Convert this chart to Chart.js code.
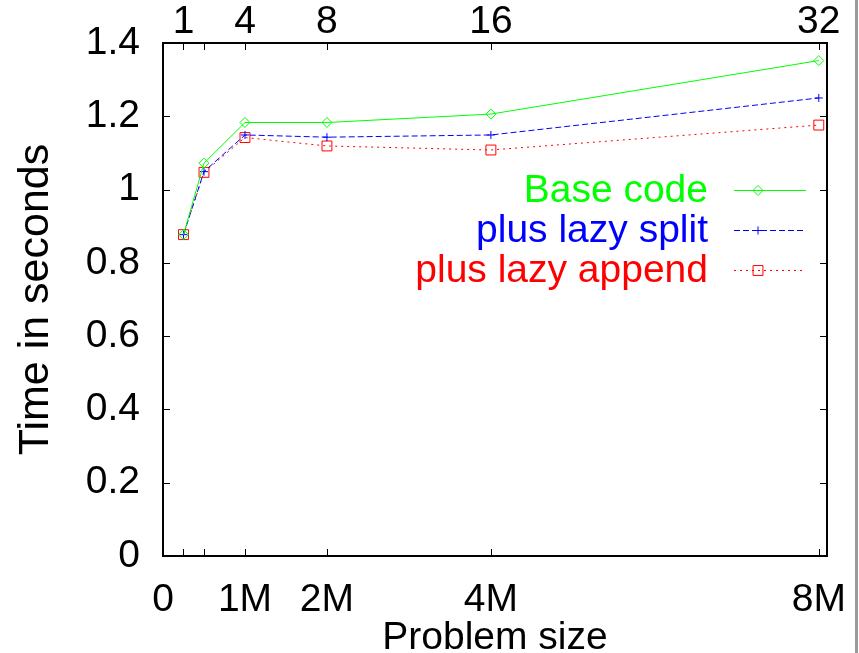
<!DOCTYPE html>
<html>
<head>
<meta charset="utf-8">
<title>Problem size vs time</title>
<script src="https://cdn.jsdelivr.net/npm/chart.js@4.4.1/dist/chart.umd.min.js"></script>
<style>
  html, body { margin: 0; padding: 0; background: #fff; }
  #wrap { width: 859px; height: 653px; position: relative; }
</style>
</head>
<body>
<div id="wrap"><canvas id="chart" width="859" height="653"></canvas></div>
<script>
// Problem sizes in millions of elements
const sizes = [0.25, 0.5, 1, 2, 4, 8];
const topLabels = ['1', '', '4', '8', '16', '32'];
const bottomTickValues = [0, 0.25, 0.5, 1, 2, 4, 8];
const bottomTickLabels = ['0', '', '', '1M', '2M', '4M', '8M'];
const yTickValues = [0, 0.2, 0.4, 0.6, 0.8, 1, 1.2, 1.4];

const baseCode   = [0.877, 1.072, 1.183, 1.183, 1.206, 1.352];
const lazySplit  = [0.877, 1.049, 1.149, 1.143, 1.149, 1.250];
const lazyAppend = [0.877, 1.047, 1.142, 1.119, 1.108, 1.176];

const FONT = '"Liberation Sans", Arial, Helvetica, sans-serif';
const FS = 39;

const toPoints = vals => sizes.map((x, i) => ({ x, y: vals[i] }));

// gnuplot style: framed box, inward ticks on all sides
const framePlugin = {
  id: 'frame',
  afterDraw(chart) {
    const { ctx, chartArea: a, scales } = chart;
    ctx.save();
    ctx.strokeStyle = '#000';
    ctx.lineWidth = 1;
    const tl = 7;
    ctx.beginPath();
    scales.y.ticks.forEach(t => {
      const y = Math.round(scales.y.getPixelForValue(t.value)) + 0.5;
      ctx.moveTo(a.left, y); ctx.lineTo(a.left + tl, y);
      ctx.moveTo(a.right, y); ctx.lineTo(a.right - tl, y);
    });
    scales.x.ticks.forEach(t => {
      const x = Math.round(scales.x.getPixelForValue(t.value)) + 0.5;
      ctx.moveTo(x, a.bottom); ctx.lineTo(x, a.bottom - tl);
    });
    scales.x2.ticks.forEach(t => {
      const x = Math.round(scales.x2.getPixelForValue(t.value)) + 0.5;
      ctx.moveTo(x, a.top); ctx.lineTo(x, a.top + tl);
    });
    ctx.stroke();
    ctx.lineWidth = 2;
    ctx.strokeRect(a.left, a.top, a.right - a.left, a.bottom - a.top);
    // grey edge at right of the picture
    ctx.fillStyle = '#9a9a9a';
    ctx.fillRect(855, 0, 3, chart.height);
    ctx.restore();
  }
};

// key inside the plot: coloured text, then a sample line with its marker
const keyPlugin = {
  id: 'key',
  afterDatasetsDraw(chart) {
    const { ctx } = chart;
    ctx.save();
    chart.data.datasets.forEach((ds, i) => {
      const y = 190 + i * 40;
      ctx.font = `${FS}px ${FONT}`;
      ctx.fillStyle = ds.borderColor;
      ctx.textAlign = 'right';
      ctx.textBaseline = 'middle';
      ctx.fillText(ds.label, 708, y + 1);
      ctx.strokeStyle = ds.borderColor;
      ctx.lineWidth = 1;
      ctx.setLineDash(ds.borderDash || []);
      ctx.beginPath();
      ctx.moveTo(734, y + 0.5); ctx.lineTo(806, y + 0.5);
      ctx.stroke();
      ctx.setLineDash([]);
      ctx.fillStyle = 'rgba(0,0,0,0)';
      Chart.helpers.drawPoint(ctx, {
        pointStyle: ds.pointStyle, radius: ds.pointRadius, borderWidth: 1, rotation: 0
      }, 758, y + 0.5);
    });
    ctx.restore();
  }
};

const tickFont = { family: FONT, size: FS, lineHeight: 1 };

// stop the scales from reserving room for overhanging labels
const noOverhang = s => { s.paddingLeft = 0; s.paddingRight = 0; s.paddingTop = 0; s.paddingBottom = 0; };

new Chart(document.getElementById('chart'), {
  type: 'line',
  data: {
    datasets: [
      {
        label: 'Base code', data: toPoints(baseCode),
        borderColor: '#00ff00', backgroundColor: 'rgba(0,0,0,0)', borderWidth: 1,
        pointStyle: 'rectRot', pointRadius: 5, pointBorderWidth: 1,
        pointBackgroundColor: 'rgba(0,0,0,0)', xAxisID: 'x', yAxisID: 'y'
      },
      {
        label: 'plus lazy split', data: toPoints(lazySplit),
        borderColor: '#0000ff', backgroundColor: 'rgba(0,0,0,0)', borderWidth: 1,
        borderDash: [6, 3],
        pointStyle: 'cross', pointRadius: 4, pointBorderWidth: 1,
        pointBackgroundColor: 'rgba(0,0,0,0)', xAxisID: 'x', yAxisID: 'y'
      },
      {
        label: 'plus lazy append', data: toPoints(lazyAppend),
        borderColor: '#ff0000', backgroundColor: 'rgba(0,0,0,0)', borderWidth: 1,
        borderDash: [2, 4],
        pointStyle: 'rect', pointRadius: 7, pointBorderWidth: 1,
        pointBackgroundColor: 'rgba(0,0,0,0)', xAxisID: 'x', yAxisID: 'y'
      }
    ]
  },
  options: {
    responsive: false,
    animation: false,
    events: [],
    clip: false,
    layout: { padding: { left: 0, right: 32, top: 0, bottom: 0 } },
    plugins: { legend: { display: false }, tooltip: { enabled: false } },
    scales: {
      x: {
        type: 'linear', position: 'bottom', min: 0, max: 8.1,
        grid: { display: false }, border: { display: false },
        afterBuildTicks: s => { s.ticks = bottomTickValues.map(v => ({ value: v })); },
        afterFit: s => { s.height = 97; noOverhang(s); },
        ticks: {
          color: '#000', font: tickFont, padding: 17, autoSkip: false, maxRotation: 0,
          callback: v => bottomTickLabels[bottomTickValues.indexOf(v)] ?? ''
        },
        title: {
          display: true, text: 'Problem size', color: '#000',
          font: { family: FONT, size: FS, lineHeight: 1 }, padding: { top: 0, bottom: -5 }
        }
      },
      x2: {
        type: 'linear', position: 'top', min: 0, max: 8.1,
        grid: { display: false }, border: { display: false },
        afterBuildTicks: s => { s.ticks = sizes.map(v => ({ value: v })); },
        afterFit: s => { s.height = 43; noOverhang(s); },
        ticks: {
          color: '#000', font: tickFont, padding: -7, autoSkip: false, maxRotation: 0,
          callback: v => topLabels[sizes.indexOf(v)] ?? ''
        }
      },
      y: {
        type: 'linear', position: 'left', min: 0, max: 1.4,
        grid: { display: false }, border: { display: false },
        afterBuildTicks: s => { s.ticks = yTickValues.map(v => ({ value: v })); },
        afterFit: s => { s.width = 163; noOverhang(s); },
        ticks: {
          color: '#000', font: tickFont, padding: 15, autoSkip: false,
          callback: v => String(Math.round(v * 10) / 10)
        },
        title: {
          display: true, text: 'Time in seconds', color: '#000',
          font: { family: FONT, size: 43, lineHeight: 1 }, padding: { top: 15, bottom: 0 }
        }
      }
    }
  },
  plugins: [framePlugin, keyPlugin]
});
</script>
</body>
</html>
